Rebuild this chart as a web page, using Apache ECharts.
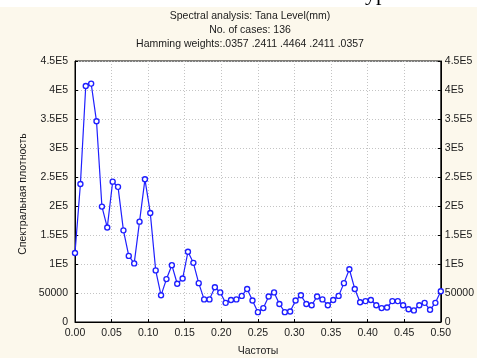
<!DOCTYPE html>
<html>
<head>
<meta charset="utf-8">
<script src="https://cdn.jsdelivr.net/npm/echarts@6/dist/echarts.min.js"></script>
<style>
  html, body { margin: 0; padding: 0; background: #ffffff; }
  #chart { width: 477px; height: 358px; }
</style>
</head>
<body>
<div id="chart"></div>
<script>
// Periodogram frequencies (cycles per observation) for 136 cases
const frequencies = [
  0, 0.0074, 0.0147, 0.0221, 0.0294, 0.0368, 0.0441, 0.0515, 0.0588, 0.0662,
  0.0735, 0.0809, 0.0882, 0.0956, 0.1029, 0.1103, 0.1176, 0.125, 0.1324, 0.1397,
  0.1471, 0.1544, 0.1618, 0.1691, 0.1765, 0.1838, 0.1912, 0.1985, 0.2059, 0.2132,
  0.2206, 0.2279, 0.2353, 0.2426, 0.25, 0.2574, 0.2647, 0.2721, 0.2794, 0.2868,
  0.2941, 0.3015, 0.3088, 0.3162, 0.3235, 0.3309, 0.3382, 0.3456, 0.3529, 0.3603,
  0.3676, 0.375, 0.3824, 0.3897, 0.3971, 0.4044, 0.4118, 0.4191, 0.4265, 0.4338,
  0.4412, 0.4485, 0.4559, 0.4632, 0.4706, 0.4779, 0.4853, 0.4926, 0.5
];

// Smoothed spectral density estimates (Hamming window)
const spectralDensity = [
  119000, 238000, 407000, 411000, 346000, 199000, 163000, 242000, 233000, 158000,
  114000, 101000, 173000, 246000, 188000, 89000, 46000, 74000, 98000, 66000,
  75000, 121000, 102000, 67000, 39000, 39000, 60000, 51000, 33000, 38000,
  39000, 45000, 57000, 37000, 17000, 24000, 44000, 51000, 31000, 17000,
  18000, 37000, 46000, 31000, 29000, 44000, 39000, 29000, 38000, 45000,
  67000, 91000, 57000, 34000, 36000, 38000, 29000, 24000, 25000, 36000,
  36000, 29000, 22000, 20000, 29000, 33000, 21000, 33000, 53000
];

const titleLines = [
  'Spectral analysis: Tana Level(mm)',
  'No. of cases: 136',
  'Hamming weights:.0357 .2411 .4464 .2411 .0357'
];
const xAxisTitle = 'Частоты';
const yAxisTitle = 'Спектральная плотность';

const FONT = '"Liberation Sans", Arial, sans-serif';
const PANEL = '#fcf8ec';

function densityLabel(v) {
  if (v === 0) return '0';
  if (v === 50000) return '50000';
  return (v / 100000) + 'E5';
}

const seriesData = frequencies.map((f, i) => [f, spectralDensity[i]]);

const yAxisBase = {
  type: 'value',
  min: 0,
  max: 450000,
  interval: 50000,
  axisLine: { show: true, lineStyle: { color: '#000', width: 1 } },
  axisTick: { show: true, inside: true, length: 3, lineStyle: { color: '#000' } },
  axisLabel: { fontFamily: FONT, fontSize: 10.5, color: '#1a1a1a', formatter: densityLabel },
  splitLine: { show: true, lineStyle: { color: '#c4c4c4', type: [1, 2], width: 1 } }
};

const chart = echarts.init(document.getElementById('chart'), null, { renderer: 'canvas' });

chart.setOption({
  animation: false,
  backgroundColor: '#ffffff',
  grid: {
    left: 75, right: 36, top: 61, bottom: 36,
    show: true, backgroundColor: '#ffffff', borderColor: '#000', borderWidth: 1
  },
  xAxis: {
    type: 'value',
    min: 0,
    max: 0.5,
    interval: 0.05,
    axisLine: { show: true, lineStyle: { color: '#000', width: 1 } },
    axisTick: { show: true, inside: true, length: 3, lineStyle: { color: '#000' } },
    axisLabel: {
      fontFamily: FONT, fontSize: 10.5, color: '#1a1a1a', margin: 6,
      formatter: v => v.toFixed(2)
    },
    splitLine: { show: true, lineStyle: { color: '#c4c4c4', type: [1, 2], width: 1 } }
  },
  yAxis: [
    Object.assign({}, yAxisBase, { position: 'left', axisLabel: Object.assign({}, yAxisBase.axisLabel, { margin: 7 }) }),
    Object.assign({}, yAxisBase, { position: 'right', splitLine: { show: false }, axisLabel: Object.assign({}, yAxisBase.axisLabel, { margin: 4 }) })
  ],
  graphic: [
    // page panel behind the chart
    { type: 'rect', z: -10, silent: true, shape: { x: 0, y: 7, width: 477, height: 351 }, style: { fill: PANEL } },
    { type: 'text', z: 10, x: 365, y: -17, style: { text: 'ур', font: '22px "Liberation Serif", "Times New Roman", serif', fill: '#000' } },
    { type: 'text', z: 10, x: 250, y: 16, style: { text: titleLines[0], font: '10.5px ' + FONT, fill: '#1a1a1a', align: 'center', verticalAlign: 'middle' } },
    { type: 'text', z: 10, x: 250, y: 30.5, style: { text: titleLines[1], font: '10.5px ' + FONT, fill: '#1a1a1a', align: 'center', verticalAlign: 'middle' } },
    { type: 'text', z: 10, x: 250, y: 44, style: { text: titleLines[2], font: '10.5px ' + FONT, fill: '#1a1a1a', align: 'center', verticalAlign: 'middle' } },
    { type: 'text', z: 10, x: 258, y: 351, style: { text: xAxisTitle, font: '10.5px ' + FONT, fill: '#1a1a1a', align: 'center', verticalAlign: 'middle' } },
    { type: 'text', z: 10, x: 23, y: 194, rotation: Math.PI / 2, style: { text: yAxisTitle, font: '10.5px ' + FONT, fill: '#1a1a1a', align: 'center', verticalAlign: 'middle' } }
  ],
  series: [{
    type: 'line',
    data: seriesData,
    yAxisIndex: 0,
    symbol: 'circle',
    symbolSize: 5,
    showAllSymbol: true,
    lineStyle: { color: '#1f1fff', width: 1.2 },
    itemStyle: { color: '#ffffff', borderColor: '#1f1fff', borderWidth: 1.4 },
    emphasis: { disabled: true }
  }]
});
</script>
</body>
</html>
